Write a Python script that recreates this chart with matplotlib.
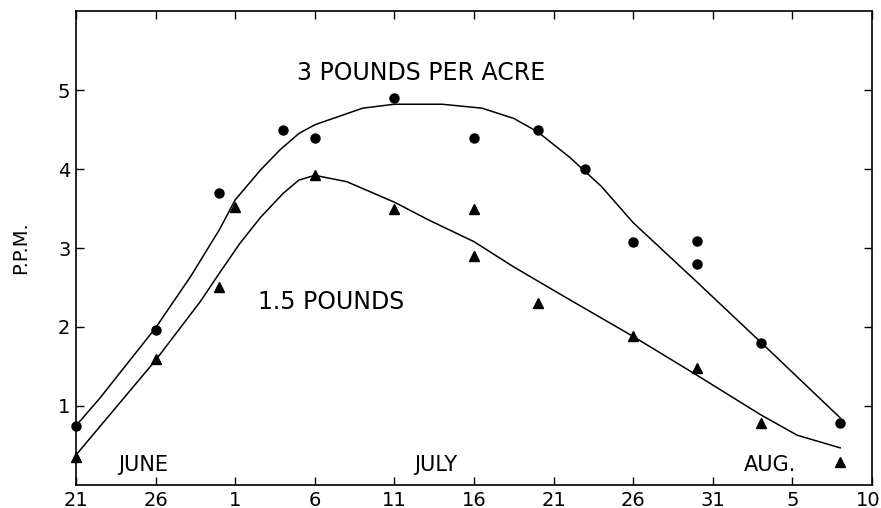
import matplotlib.pyplot as plt
from matplotlib.transforms import ScaledTranslation

# days counted from June 21
day_ticks = [0, 5, 10, 15, 20, 25, 30, 35, 40, 45, 50]
day_labels = ["21", "26", "1", "6", "11", "16", "21", "26", "31", "5", "10"]
ppm_ticks = [1, 2, 3, 4, 5]

# observed residues, 3 pounds per acre
heavy_days = [0, 5, 9, 13, 15, 20, 25, 29, 32, 35, 39, 39, 43, 48]
heavy_ppm = [0.75, 1.96, 3.70, 4.50, 4.39, 4.90, 4.39, 4.50, 4.00, 3.08, 3.09, 2.80, 1.80, 0.78]

# observed residues, 1.5 pounds per acre
light_days = [0, 5, 9, 10, 15, 20, 25, 25, 29, 35, 39, 43, 48]
light_ppm = [0.35, 1.60, 2.51, 3.52, 3.92, 3.50, 3.49, 2.90, 2.30, 1.89, 1.48, 0.78, 0.29]

# hand-fitted curves
heavy_curve_days = [0, 1.5, 5, 7.2, 9, 10, 11.6, 12.8, 14, 15, 18, 20, 23, 25.5, 27.5, 29, 31, 33, 35, 39, 43, 48]
heavy_curve_ppm = [0.75, 1.10, 1.99, 2.64, 3.23, 3.61, 3.99, 4.24, 4.45, 4.56, 4.77, 4.82, 4.82, 4.77, 4.64, 4.47,
                   4.15, 3.78, 3.32, 2.57, 1.81, 0.85]
light_curve_days = [0, 5, 7.8, 9, 10.3, 11.6, 13, 14, 15, 17, 20, 22.2, 25, 27.5, 30.8, 35, 39, 43, 45.3, 48]
light_curve_ppm = [0.38, 1.58, 2.32, 2.68, 3.06, 3.39, 3.69, 3.86, 3.92, 3.84, 3.58, 3.35, 3.08, 2.76, 2.37, 1.88,
                   1.39, 0.89, 0.63, 0.47]

fig = plt.figure(figsize=(8.81, 5.08), dpi=100)
ax = fig.add_axes([0.0863, 0.0453, 0.9035, 0.933])

ax.plot(heavy_curve_days, heavy_curve_ppm, color="black", lw=1.1, clip_on=False)
ax.plot(light_curve_days, light_curve_ppm, color="black", lw=1.1, clip_on=False)
ax.plot(heavy_days, heavy_ppm, "o", color="black", ms=6.5, clip_on=False)
ax.plot(light_days, light_ppm, "^", color="black", ms=7.5, clip_on=False)

ax.set_xlim(0, 50)
ax.set_ylim(0, 6)
ax.set_xticks(day_ticks)
ax.set_xticklabels(day_labels)
ax.set_yticks(ppm_ticks)
ax.tick_params(direction="in", length=6, width=1, labelsize=14, pad=4,
               top=True, right=True)
for side in ax.spines.values():
    side.set_linewidth(1.2)

# keep the last date inside the figure edge
last = ax.get_xticklabels()[-1]
last.set_transform(last.get_transform() + ScaledTranslation(-0.04, 0, fig.dpi_scale_trans))

ax.set_ylabel("P.P.M.", fontsize=14, labelpad=20)

ax.text(21.7, 5.22, "3 POUNDS PER ACRE", fontsize=17, ha="center", va="center")
ax.text(16.0, 2.32, "1.5 POUNDS", fontsize=17, ha="center", va="center")
ax.text(4.2, 0.25, "JUNE", fontsize=15, ha="center", va="center")
ax.text(22.6, 0.25, "JULY", fontsize=15, ha="center", va="center")
ax.text(43.6, 0.25, "AUG.", fontsize=15, ha="center", va="center")

fig.savefig("out.png", dpi=100)
